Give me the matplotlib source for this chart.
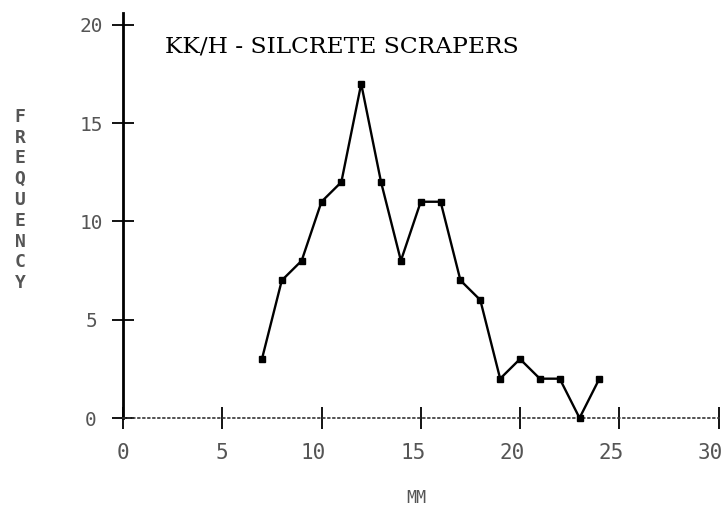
import matplotlib
matplotlib.use("Agg")
import matplotlib.pyplot as plt
from matplotlib.transforms import ScaledTranslation

# Data
size_mm = [7, 8, 9, 10, 11, 12, 13, 14, 15, 16, 17, 18, 19, 20, 21, 22, 23, 24]
frequency = [3, 7, 8, 11, 12, 17, 12, 8, 11, 11, 7, 6, 2, 3, 2, 2, 0, 2]
x_ticks = [0, 5, 10, 15, 20, 25, 30]
y_ticks = [0, 5, 10, 15, 20]
x_tick_labels = ["0", "5", "10", "15", "20", "25", "30"]
y_tick_labels = ["0", "5", "10", "15", "20"]
title_text = "KK/H - SILCRETE SCRAPERS"
x_label = "MM"
y_label = "FREQUENCY"

W, H = 727, 509
fig = plt.figure(figsize=(W / 100, H / 100), dpi=100)
fig.patch.set_facecolor("white")

# axes placement (pixels): x 0 -> 123, 30 -> 718.5 ; y 0 -> 418, 20.6 -> 13
left = 123 / W
width = (718.5 - 123) / W
bottom = (H - 418) / H
height = (418 - 13) / H
ax = fig.add_axes([left, bottom, width, height])
ax.set_xlim(0, 30)
ax.set_ylim(0, 20.6)
ax.set_facecolor("white")

for s in ["top", "right"]:
    ax.spines[s].set_visible(False)
ax.spines["left"].set_linewidth(2.0)
ax.spines["left"].set_color("black")
ax.spines["bottom"].set_linestyle((0, (1, 2)))
ax.spines["bottom"].set_linewidth(1.2)
ax.spines["bottom"].set_color("#333333")

ax.plot(size_mm, frequency, color="black", linewidth=1.7, marker="s",
        markersize=4.2, markerfacecolor="black", markeredgecolor="black",
        clip_on=False, zorder=3)

tick_col = "#555555"
mono = "DejaVu Sans Mono"
ax.set_xticks(x_ticks)
ax.set_xticklabels(x_tick_labels, fontfamily=mono, fontsize=15, color=tick_col)
ax.set_yticks(y_ticks)
ax.set_yticklabels(y_tick_labels, fontfamily=mono, fontsize=14, color=tick_col)
ax.tick_params(axis="x", direction="inout", length=16, width=1.3, pad=10, colors="black")
ax.tick_params(axis="y", direction="inout", length=16, width=1.3, pad=15, colors="black")
for lab in ax.get_xticklabels():
    lab.set_color(tick_col)
    if len(lab.get_text()) == 2:
        lab.set_transform(lab.get_transform() + ScaledTranslation(-8 / 100, 0, fig.dpi_scale_trans))
for lab in ax.get_yticklabels():
    lab.set_color(tick_col)
    lab.set_horizontalalignment("center")

# title inside plot
ax.text(2.1, 18.9, title_text, fontfamily="DejaVu Serif", fontsize=16.8,
        color="black", ha="left", va="center")

# x label
fig.text(416 / W, 1 - 498 / H, x_label, fontfamily=mono, fontsize=12,
         color=tick_col, ha="center", va="center")
# y label, stacked letters
fig.text(20 / W, 1 - 200 / H, "\n".join(y_label), fontfamily=mono, fontsize=13,
         color=tick_col, ha="center", va="center", linespacing=1.2,
         fontweight="bold")

fig.savefig("out.png", dpi=100, facecolor="white")
